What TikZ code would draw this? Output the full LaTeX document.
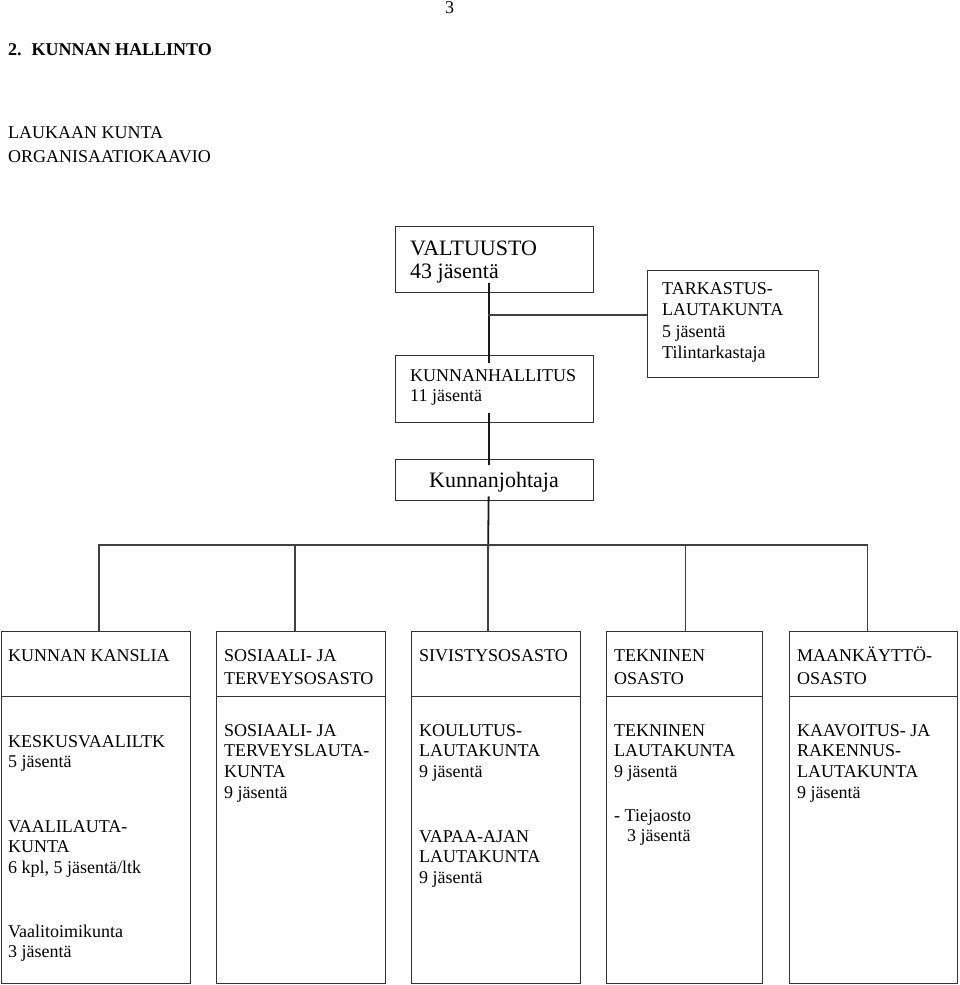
\documentclass[tikz,border=0pt]{standalone}
\usepackage{fontspec}
\setmainfont{Liberation Serif}
\tikzset{
  box/.style={draw=black!80,line width=1.3pt,anchor=north west,inner sep=0pt},
  link/.style={draw=black!75,line width=1.4pt},
  trunk/.style={draw=black!90,line width=1.8pt},
  txt/.style={anchor=base west,inner sep=0pt,align=left,font=\fontsize{18}{20.7}\selectfont},
  hd/.style={font=\fontsize{18}{23}\selectfont},
}
\begin{document}
\begin{tikzpicture}[x=1pt,y=-1pt]
\useasboundingbox (0,0) rectangle (960,985);

% Page heading (text nodes sit on the baseline of their last line)
\node[txt] (page) at (445,13) {3};
\node[txt,font=\fontsize{18}{21}\selectfont\bfseries] (title) at (8,55) {2.\hspace{10pt}KUNNAN HALLINTO};
\node[txt,font=\fontsize{18}{24}\selectfont] (subtitle) at (8,162) {LAUKAAN KUNTA\\ORGANISAATIOKAAVIO};

% Council, board and audit
\node[box,minimum width=198,minimum height=66] (valtuusto) at (395,226) {};
\node[txt,font=\fontsize{22}{23}\selectfont] (valtuusto-t) at (410,278) {VALTUUSTO\\43 jäsentä};
\node[box,minimum width=198,minimum height=67] (hallitus) at (395,355) {};
\node[txt,font=\fontsize{18}{20}\selectfont] (hallitus-t) at (410,401) {KUNNANHALLITUS\\11 jäsentä};
\node[box,minimum width=171,minimum height=107] (tarkastus) at (647,270) {};
\node[txt,font=\fontsize{18}{21.5}\selectfont] (tarkastus-t) at (662,358.5) {TARKASTUS-\\LAUTAKUNTA\\5 jäsentä\\Tilintarkastaja};
\node[box,minimum width=198,minimum height=41] (johtaja) at (395,459) {};
\node[font=\fontsize{22}{24}\selectfont,anchor=base,inner sep=0pt] (johtaja-t) at (494,487) {Kunnanjohtaja};

% Departments
\node[box,minimum width=189,minimum height=65] (h1) at (0.75,631) {};
\node[box,minimum width=169,minimum height=65] (h2) at (216,631) {};
\node[box,minimum width=169,minimum height=65] (h3) at (411,631) {};
\node[box,minimum width=156,minimum height=65] (h4) at (606,631) {};
\node[box,minimum width=168,minimum height=65] (h5) at (789,631) {};
\node[txt,hd] (h1-t) at (8,661) {KUNNAN KANSLIA};
\node[txt,hd] (h2-t) at (224,684) {SOSIAALI- JA\\TERVEYSOSASTO};
\node[txt,hd] (h3-t) at (419,661) {SIVISTYSOSASTO};
\node[txt,hd] (h4-t) at (614,684) {TEKNINEN\\OSASTO};
\node[txt,hd] (h5-t) at (797,684) {MAANKÄYTTÖ-\\OSASTO};

% Boards under each department
\node[box,minimum width=189,minimum height=287] (l1) at (0.75,696) {};
\node[box,minimum width=169,minimum height=287] (l2) at (216,696) {};
\node[box,minimum width=169,minimum height=287] (l3) at (411,696) {};
\node[box,minimum width=156,minimum height=287] (l4) at (606,696) {};
\node[box,minimum width=168,minimum height=287] (l5) at (789,696) {};
\node[txt] (l1-a) at (8,767.7) {KESKUSVAALILTK\\5 jäsentä};
\node[txt] (l1-b) at (8,873.4) {VAALILAUTA-\\KUNTA\\6 kpl, 5 jäsentä/ltk};
\node[txt] (l1-c) at (8,957.7) {Vaalitoimikunta\\3 jäsentä};
\node[txt] (l2-a) at (224,798.1) {SOSIAALI- JA\\TERVEYSLAUTA-\\KUNTA\\9 jäsentä};
\node[txt] (l3-a) at (419,777.4) {KOULUTUS-\\LAUTAKUNTA\\9 jäsentä};
\node[txt] (l3-b) at (419,883.4) {VAPAA-AJAN\\LAUTAKUNTA\\9 jäsentä};
\node[txt] (l4-a) at (614,777.4) {TEKNINEN\\LAUTAKUNTA\\9 jäsentä};
\node[txt] (l4-b) at (614,841.7) {- Tiejaosto\\\hspace*{13pt}3 jäsentä};
\node[txt] (l5-a) at (797,798.1) {KAAVOITUS- JA\\RAKENNUS-\\LAUTAKUNTA\\9 jäsentä};

% Connectors
\coordinate (tbranch) at (488,315);
\coordinate (bus) at (488,545);
\draw[trunk] ([xshift=-6,yshift=10]valtuusto.south) -- ([xshift=-6,yshift=-8]hallitus.north);
\draw[link] (tbranch) -- (tbranch -| tarkastus.west);
\draw[trunk] ([xshift=-6,yshift=10]hallitus.south) -- ([xshift=-6,yshift=-6]johtaja.north);
\draw[trunk] ([xshift=-6,yshift=5]johtaja.south) -- ([yshift=-13]bus);
\draw[link] ([xshift=3]h1.north) |- (bus) -| ([xshift=-6]h5.north);
\draw[link] ([xshift=-6]h2.north) -- ([xshift=-6]h2.north |- bus);
\draw[link] (bus) -- (bus |- h3.north);
\draw[link] ([xshift=1]h4.north) -- ([xshift=1]h4.north |- bus);

\end{tikzpicture}
\end{document}
